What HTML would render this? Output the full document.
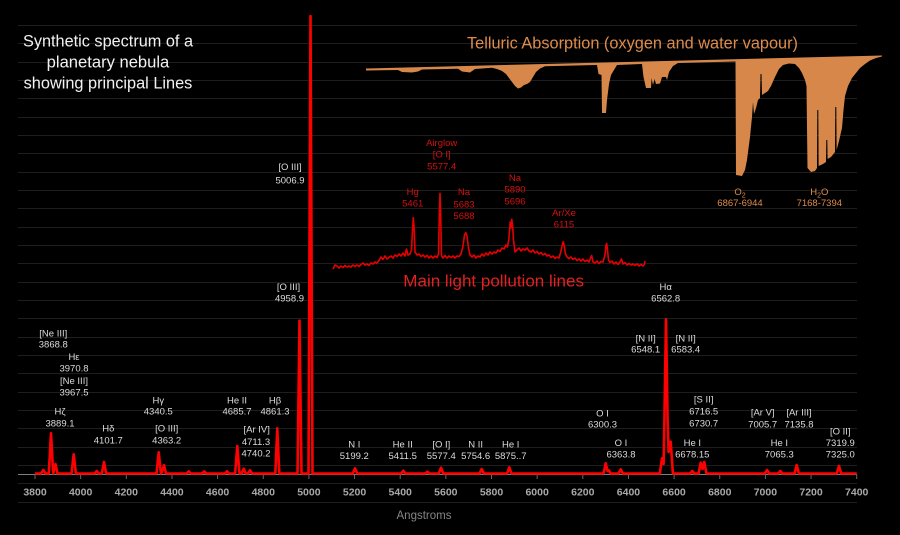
<!DOCTYPE html>
<html>
<head>
<meta charset="utf-8">
<style>
html,body{margin:0;padding:0;background:#000;}
svg{display:block;}
text{font-family:"Liberation Sans",Arial,sans-serif;}
.lb{font-size:9.5px;fill:#dcdcdc;text-anchor:middle;}
.rl{font-size:9.5px;fill:#d41010;text-anchor:middle;}
.tk{font-size:10.5px;font-weight:bold;fill:#a8a8a8;text-anchor:middle;}
.ol{font-size:9.5px;fill:#de8c4c;text-anchor:middle;}
</style>
</head>
<body>
<svg width="900" height="535" viewBox="0 0 900 535" xmlns="http://www.w3.org/2000/svg">
<rect x="0" y="0" width="900" height="535" fill="#000"/>
<!-- gridlines -->
<g stroke="#1e1e1e" stroke-width="1">
<line x1="18" x2="857" y1="25.5" y2="25.5"/>
<line x1="18" x2="857" y1="43.5" y2="43.5"/>
<line x1="18" x2="857" y1="62.5" y2="62.5"/>
<line x1="18" x2="857" y1="80.5" y2="80.5"/>
<line x1="18" x2="857" y1="98.5" y2="98.5"/>
<line x1="18" x2="857" y1="117.5" y2="117.5"/>
<line x1="18" x2="857" y1="135.5" y2="135.5"/>
<line x1="18" x2="857" y1="153.5" y2="153.5"/>
<line x1="18" x2="857" y1="172.5" y2="172.5"/>
<line x1="18" x2="857" y1="190.5" y2="190.5"/>
<line x1="18" x2="857" y1="208.5" y2="208.5"/>
<line x1="18" x2="857" y1="227.5" y2="227.5"/>
<line x1="18" x2="857" y1="245.5" y2="245.5"/>
<line x1="18" x2="857" y1="263.5" y2="263.5"/>
<line x1="18" x2="857" y1="282.5" y2="282.5"/>
<line x1="18" x2="857" y1="300.5" y2="300.5"/>
<line x1="18" x2="857" y1="318.5" y2="318.5"/>
<line x1="18" x2="857" y1="337.5" y2="337.5"/>
<line x1="18" x2="857" y1="355.5" y2="355.5"/>
<line x1="18" x2="857" y1="373.5" y2="373.5"/>
<line x1="18" x2="857" y1="392.5" y2="392.5"/>
<line x1="18" x2="857" y1="410.5" y2="410.5"/>
<line x1="18" x2="857" y1="428.5" y2="428.5"/>
<line x1="18" x2="857" y1="447.5" y2="447.5"/>
<line x1="18" x2="857" y1="465.5" y2="465.5"/>
<line x1="18" x2="857" y1="483.5" y2="483.5"/>
<line x1="18" x2="857" y1="502.5" y2="502.5"/>
</g>

<!-- axis -->
<line x1="18" x2="857" y1="474.5" y2="474.5" stroke="#808080" stroke-width="1"/>
<g stroke="#6a6a6a" stroke-width="1">
<line x1="35" x2="35" y1="474.5" y2="479"/>
<line x1="80.65" x2="80.65" y1="474.5" y2="479"/>
<line x1="126.3" x2="126.3" y1="474.5" y2="479"/>
<line x1="171.95" x2="171.95" y1="474.5" y2="479"/>
<line x1="217.6" x2="217.6" y1="474.5" y2="479"/>
<line x1="263.25" x2="263.25" y1="474.5" y2="479"/>
<line x1="308.9" x2="308.9" y1="474.5" y2="479"/>
<line x1="354.55" x2="354.55" y1="474.5" y2="479"/>
<line x1="400.2" x2="400.2" y1="474.5" y2="479"/>
<line x1="445.85" x2="445.85" y1="474.5" y2="479"/>
<line x1="491.5" x2="491.5" y1="474.5" y2="479"/>
<line x1="537.15" x2="537.15" y1="474.5" y2="479"/>
<line x1="582.8" x2="582.8" y1="474.5" y2="479"/>
<line x1="628.45" x2="628.45" y1="474.5" y2="479"/>
<line x1="674.1" x2="674.1" y1="474.5" y2="479"/>
<line x1="719.75" x2="719.75" y1="474.5" y2="479"/>
<line x1="765.4" x2="765.4" y1="474.5" y2="479"/>
<line x1="811.05" x2="811.05" y1="474.5" y2="479"/>
<line x1="856.7" x2="856.7" y1="474.5" y2="479"/>
</g>
<g class="tk">
<text class="tk" x="35" y="495.5">3800</text>
<text class="tk" x="80.65" y="495.5">4000</text>
<text class="tk" x="126.3" y="495.5">4200</text>
<text class="tk" x="171.95" y="495.5">4400</text>
<text class="tk" x="217.6" y="495.5">4600</text>
<text class="tk" x="263.25" y="495.5">4800</text>
<text class="tk" x="308.9" y="495.5">5000</text>
<text class="tk" x="354.55" y="495.5">5200</text>
<text class="tk" x="400.2" y="495.5">5400</text>
<text class="tk" x="445.85" y="495.5">5600</text>
<text class="tk" x="491.5" y="495.5">5800</text>
<text class="tk" x="537.15" y="495.5">6000</text>
<text class="tk" x="582.8" y="495.5">6200</text>
<text class="tk" x="628.45" y="495.5">6400</text>
<text class="tk" x="674.1" y="495.5">6600</text>
<text class="tk" x="719.75" y="495.5">6800</text>
<text class="tk" x="765.4" y="495.5">7000</text>
<text class="tk" x="811.05" y="495.5">7200</text>
<text class="tk" x="856.7" y="495.5">7400</text>
</g>
<text x="424" y="519" font-size="11.5" fill="#858585" text-anchor="middle">Angstroms</text>

<!-- telluric absorption -->
<polygon fill="#d8874a" points="366,68.5 882,55.5 882,56.5 876,58 870,60.5 865,64 860,68 856,73 852,78 848,86 845,96 843.5,110 842,128 839,141 836.6,150 836.3,107 835.3,107 835,152 831,157 827.6,159 827.3,140 826.3,140 826,162 823,164 818.6,166 818.3,110 817.3,110 817,168 815,171 811,172 807.5,168 806.5,86 805,80 802,73 799,68 795,64 789,63.5 783,65 779,69 775,77 771,86 768,91 765,93 762,95 761.5,74 760.5,74 760,98 758,100 756,108 754,114 753,102 752,117 750,137 747,160 745,170 742,176 736,175 735.5,61.5 678,63 673,66 669,72 667,80 666,77 662,77 660,83.5 656,84 654.5,79 653,85 651.5,78 651,88 646,88 643.5,77 642,64 617,65 614,70 611,75 609,84 607,100 606,113 602,113 601.5,75 598.5,74 597,65 545,66.3 540,68.5 536,72 533,77 530,82 527,84 524,85 521,87.5 518,88.5 515,86 512,82 509,78 506,74 502,71 497,69 492,67.8 475,69 470,72.5 462,71.5 458,68.8 422,69.5 418,71.5 412,72.5 402,72 398,70 366,70.5"/>
<text x="467" y="48.5" font-size="16.3" fill="#de8c4c" textLength="331" lengthAdjust="spacingAndGlyphs">Telluric Absorption (oxygen and water vapour)</text>
<text class="ol" x="740" y="195">O<tspan font-size="7" dy="2.5">2</tspan></text>
<text class="ol" x="740" y="206">6867-6944</text>
<text class="ol" x="819.3" y="195">H<tspan font-size="7" dy="2.5">2</tspan><tspan dy="-2.5">O</tspan></text>
<text class="ol" x="819.3" y="206">7168-7394</text>

<!-- title -->
<text x="108" y="46.5" font-size="16.3" fill="#f2f2f2" text-anchor="middle" textLength="170" lengthAdjust="spacingAndGlyphs">Synthetic spectrum of a</text>
<text x="108" y="67.5" font-size="16.3" fill="#f2f2f2" text-anchor="middle" textLength="122.6" lengthAdjust="spacingAndGlyphs">planetary nebula</text>
<text x="108" y="88.5" font-size="16.3" fill="#f2f2f2" text-anchor="middle" textLength="168.7" lengthAdjust="spacingAndGlyphs">showing principal Lines</text>

<!-- light pollution spectrum -->
<polyline fill="none" stroke="#e80000" stroke-width="1.6" stroke-linejoin="round" points="333,269 335,265 337,266 339,268 341,266 343,267.5 345,265.5 347,267 349,266 351,267 353,265 355,266.5 357,265 359,266.5 361,264.5 363,263 365,265 367,264 369,265.5 371,263 373,264 375,262 377,263 379,260.5 381,257 383,259.5 385,256 387,259 389,257.5 391,256 393,258 395,255 397,256.5 399,254 401,256 403,253 405,256 406.5,249 408,255 410,254 411.5,250 412.5,230 413.3,217.7 414.2,230 415,252 417,255 419,254 421,256.5 423,255 425,257 427,255.5 429,258 431,256 433,258 435,256 437,257.5 438.5,254 439.3,215 440,193.3 440.7,215 441.5,256 443,258 445,255.5 447,258 449,256 451,257.5 453,256 455,258 457,256 459,256.5 461,254 463,246 464.5,235 465.7,232.7 467,236 468.5,248 470,255 472,257 474,255 476,258 478,256 480,257 482,254 484,256 486,253 488,255 490,252 492,254 494,252 496,253 498,250 500,251.5 502,248 504,249 506,245 507.5,247 509,238 510.2,222 511,228 511.8,219.3 512.8,228 513.5,240 515,252 517,250 519,248 521,251 523,249 525,250 527,248 529,251 531,252 533,250 535,253 537,251.5 539,254 541,252.5 543,255 545,253.5 547,256 549,255 551,257.5 553,256 555,258.5 557,257 559,258 561,251 562.5,244 563.3,241.7 564.3,246 565.5,254 567,257 569,258.5 571,257 573,259.5 575,258 577,260.5 579,259 581,261 583,259 585,261.5 587,260 589,262 590.5,258 591.7,255.5 593,262 595,263 597,261 599,263.5 601,261.5 603,262 605,255 606,245 606.7,243.5 607.5,250 608.5,260 610,262.5 612,261 614,264 616,262 618,264.5 620,262 621.5,259 623,264 625,262.5 627,265 629,263.5 631,265 633,264 635,265.5 637,264 639,266 641,264.5 643,266 644.5,264 645,261"/>
<text x="403.3" y="286.5" font-size="17" fill="#e42020" textLength="180.7" lengthAdjust="spacingAndGlyphs">Main light pollution lines</text>
<text class="rl" x="441.7" y="146">Airglow</text>
<text class="rl" x="441.7" y="157.7">[O I]</text>
<text class="rl" x="441.7" y="169.4">5577.4</text>
<text class="rl" x="412.7" y="195">Hg</text>
<text class="rl" x="412.7" y="206.7">5461</text>
<text class="rl" x="464" y="195">Na</text>
<text class="rl" x="464" y="207.4">5683</text>
<text class="rl" x="464" y="219">5688</text>
<text class="rl" x="515" y="181">Na</text>
<text class="rl" x="515" y="192.7">5890</text>
<text class="rl" x="515" y="204.4">5696</text>
<text class="rl" x="564" y="216">Ar/Xe</text>
<text class="rl" x="564" y="227.7">6115</text>

<!-- main spectrum -->
<path fill="none" stroke="#ff0000" stroke-width="2.6" stroke-linejoin="round" d="M35,473.5 L41,473.5 L43.3,470 L45.6,473.5 L48.8,473.5 L51,433.3 L53.2,473.5 L53.6,472 L55.5,464 L57.5,473.5 L71.5,473.5 L73.7,454.3 L75.9,473.5 L94.5,473.5 L96.7,471 L98.9,473.5 L101.8,473.5 L104,462 L106.2,473.5 L156.5,473.5 L158.7,452.3 L160.9,473.5 L162,472 L164,465.3 L166,473.5 L186.5,473.5 L188.7,471.3 L190.9,473.5 L202.1,473.5 L204.3,471.5 L206.5,473.5 L224.8,473.5 L227,471.3 L229.2,473.5 L235.1,473.5 L237.3,446 L239.5,473.5 L241.5,473.5 L243.7,468.7 L245.9,473.5 L247.8,473.5 L250,470.3 L252.2,473.5 L275.3,473.5 L277.3,428.3 L279.3,473.5 L297.5,473.5 L299.5,320.7 L301.5,473.5 L308.5,473.5 L310.5,16 L312.5,473.5 L352.8,473.5 L355,468.3 L357.2,473.5 L401.1,473.5 L403.3,470.7 L405.5,473.5 L425.1,473.5 L427.3,471.7 L429.5,473.5 L438.8,473.5 L441,467.7 L443.2,473.5 L479.5,473.5 L481.7,469 L483.9,473.5 L507.1,473.5 L509.3,467.3 L511.5,473.5 L603.5,473.5 L605.7,463.3 L607.5,471 L609,470.5 L610.5,473.5 L618.5,473.5 L620.7,469.3 L622.9,473.5 L659.8,473.5 L662,458.3 L663.6,464 L664.4,420 L666,319.3 L667.6,420 L668.6,452 L670.7,441.7 L672.9,473.5 L690.1,473.5 L692.3,471 L694.5,473.5 L698.5,473.5 L700.7,462.7 L702.5,469 L704.3,462 L706.5,473.5 L764.8,473.5 L767,470 L769.2,473.5 L778.1,473.5 L780.3,471 L782.5,473.5 L794.5,473.5 L796.7,465 L798.9,473.5 L836.8,473.5 L839,466 L841.2,473.5 L856.7,473.5"/>

<!-- line labels -->
<text class="lb" x="53.3" y="336.7">[Ne III]</text>
<text class="lb" x="53.3" y="347.7">3868.8</text>
<text class="lb" x="74" y="360">Hε</text>
<text class="lb" x="74" y="371.7">3970.8</text>
<text class="lb" x="74" y="384">[Ne III]</text>
<text class="lb" x="74" y="395.7">3967.5</text>
<text class="lb" x="60" y="414.4">Hζ</text>
<text class="lb" x="60" y="426.7">3889.1</text>
<text class="lb" x="108.3" y="431.7">Hδ</text>
<text class="lb" x="108.3" y="443.4">4101.7</text>
<text class="lb" x="158.3" y="403.4">Hγ</text>
<text class="lb" x="158.3" y="414.4">4340.5</text>
<text class="lb" x="166.7" y="431.7">[O III]</text>
<text class="lb" x="166.7" y="443.4">4363.2</text>
<text class="lb" x="237" y="403.4">He II</text>
<text class="lb" x="237" y="414.4">4685.7</text>
<text class="lb" x="275" y="403.4">Hβ</text>
<text class="lb" x="275" y="414.4">4861.3</text>
<text class="lb" x="256.7" y="432.7">[Ar IV]</text>
<text class="lb" x="256" y="445">4711.3</text>
<text class="lb" x="256" y="456.7">4740.2</text>
<text class="lb" x="288.5" y="290">[O III]</text>
<text class="lb" x="289.5" y="301.5">4958.9</text>
<text class="lb" x="290" y="170">[O III]</text>
<text class="lb" x="290" y="183.4">5006.9</text>
<text class="lb" x="354.3" y="447.4">N I</text>
<text class="lb" x="354.3" y="459">5199.2</text>
<text class="lb" x="402.7" y="447.4">He II</text>
<text class="lb" x="402.7" y="459">5411.5</text>
<text class="lb" x="441.3" y="447.4">[O I]</text>
<text class="lb" x="441.3" y="459">5577.4</text>
<text class="lb" x="475.7" y="447.4">N II</text>
<text class="lb" x="475.7" y="459">5754.6</text>
<text class="lb" x="510.7" y="447.4">He I</text>
<text class="lb" x="510.7" y="459">5875..7</text>
<text class="lb" x="602.5" y="416.4">O I</text>
<text class="lb" x="602.5" y="427.5">6300.3</text>
<text class="lb" x="621" y="446">O I</text>
<text class="lb" x="621" y="457.7">6363.8</text>
<text class="lb" x="665.7" y="290">Hα</text>
<text class="lb" x="665.7" y="301.7">6562.8</text>
<text class="lb" x="645.7" y="341.7">[N II]</text>
<text class="lb" x="645.7" y="352.7">6548.1</text>
<text class="lb" x="685.7" y="341.7">[N II]</text>
<text class="lb" x="685.7" y="352.7">6583.4</text>
<text class="lb" x="703.7" y="402.7">[S II]</text>
<text class="lb" x="703.7" y="414.4">6716.5</text>
<text class="lb" x="703.7" y="426.7">6730.7</text>
<text class="lb" x="692.3" y="446">He I</text>
<text class="lb" x="692.3" y="457.7">6678.15</text>
<text class="lb" x="762.7" y="415.7">[Ar V]</text>
<text class="lb" x="762.7" y="427.4">7005.7</text>
<text class="lb" x="799" y="415.7">[Ar III]</text>
<text class="lb" x="799" y="427.4">7135.8</text>
<text class="lb" x="779.3" y="446">He I</text>
<text class="lb" x="779.3" y="457.7">7065.3</text>
<text class="lb" x="840.3" y="434.4">[O II]</text>
<text class="lb" x="840.3" y="446">7319.9</text>
<text class="lb" x="840.3" y="457.7">7325.0</text>
</svg>
</body>
</html>
